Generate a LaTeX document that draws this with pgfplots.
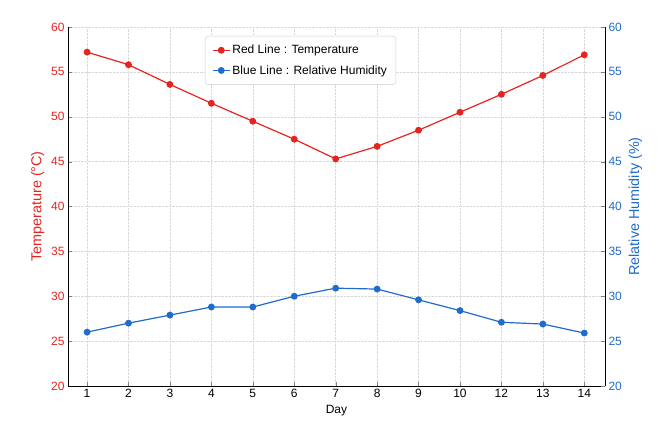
\documentclass[border=0pt]{standalone}
\usepackage{pgfplots}
\pgfplotsset{compat=1.18}
\usepackage{fontspec}
\setmainfont{Liberation Sans}
\definecolor{tred}{HTML}{E52420}
\definecolor{hblue}{HTML}{1F6CCB}
\begin{document}
\begin{tikzpicture}
\useasboundingbox (-68pt,-57pt) rectangle (595pt,386pt);
\pgfplotsset{every axis/.append style={width=537pt,height=359pt,scale only axis,
  xmin=-0.46,xmax=12.5,ymin=20,ymax=60,ytick={20,25,...,60},
  /pgf/number format/assume math mode=true,tick label style={font=\large}}}
\begin{axis}[axis y line*=left, axis x line*=bottom,
  xtick={0,...,12}, xticklabels={1,2,3,4,5,6,7,8,9,10,12,13,14},
  xlabel={Day}, xlabel style={font=\large},
  ylabel={Temperature (°C)}, ylabel style={font=\Large,color=tred},
  y tick label style={color=tred},
  grid=major, grid style={densely dotted,gray!30},
  legend style={at={(0.255,0.975)},anchor=north west,font=\large,draw=gray!40,rounded corners=3pt,row sep=6pt,inner sep=7pt},
  legend cell align=left]
\addplot[tred,line width=1.2pt,mark=*,mark size=2.8pt] coordinates {(0,57.2)(1,55.8)(2,53.6)(3,51.5)(4,49.5)(5,47.5)(6,45.3)(7,46.7)(8,48.5)(9,50.5)(10,52.5)(11,54.6)(12,56.9)};
\addlegendentry{Red Line : Temperature}
\addlegendimage{hblue,line width=1.2pt,mark=*,mark size=2.8pt}
\addlegendentry{Blue Line : Relative Humidity}
\end{axis}
\begin{axis}[axis y line*=right, axis x line=none,
  ylabel={Relative Humidity (\%)}, ylabel style={font=\Large,color=hblue},
  y tick label style={color=hblue}]
\addplot[hblue,line width=1.2pt,mark=*,mark size=2.8pt] coordinates {(0,26.0)(1,27.0)(2,27.9)(3,28.8)(4,28.8)(5,30.0)(6,30.9)(7,30.8)(8,29.6)(9,28.4)(10,27.1)(11,26.9)(12,25.9)};
\end{axis}
\end{tikzpicture}
\end{document}
